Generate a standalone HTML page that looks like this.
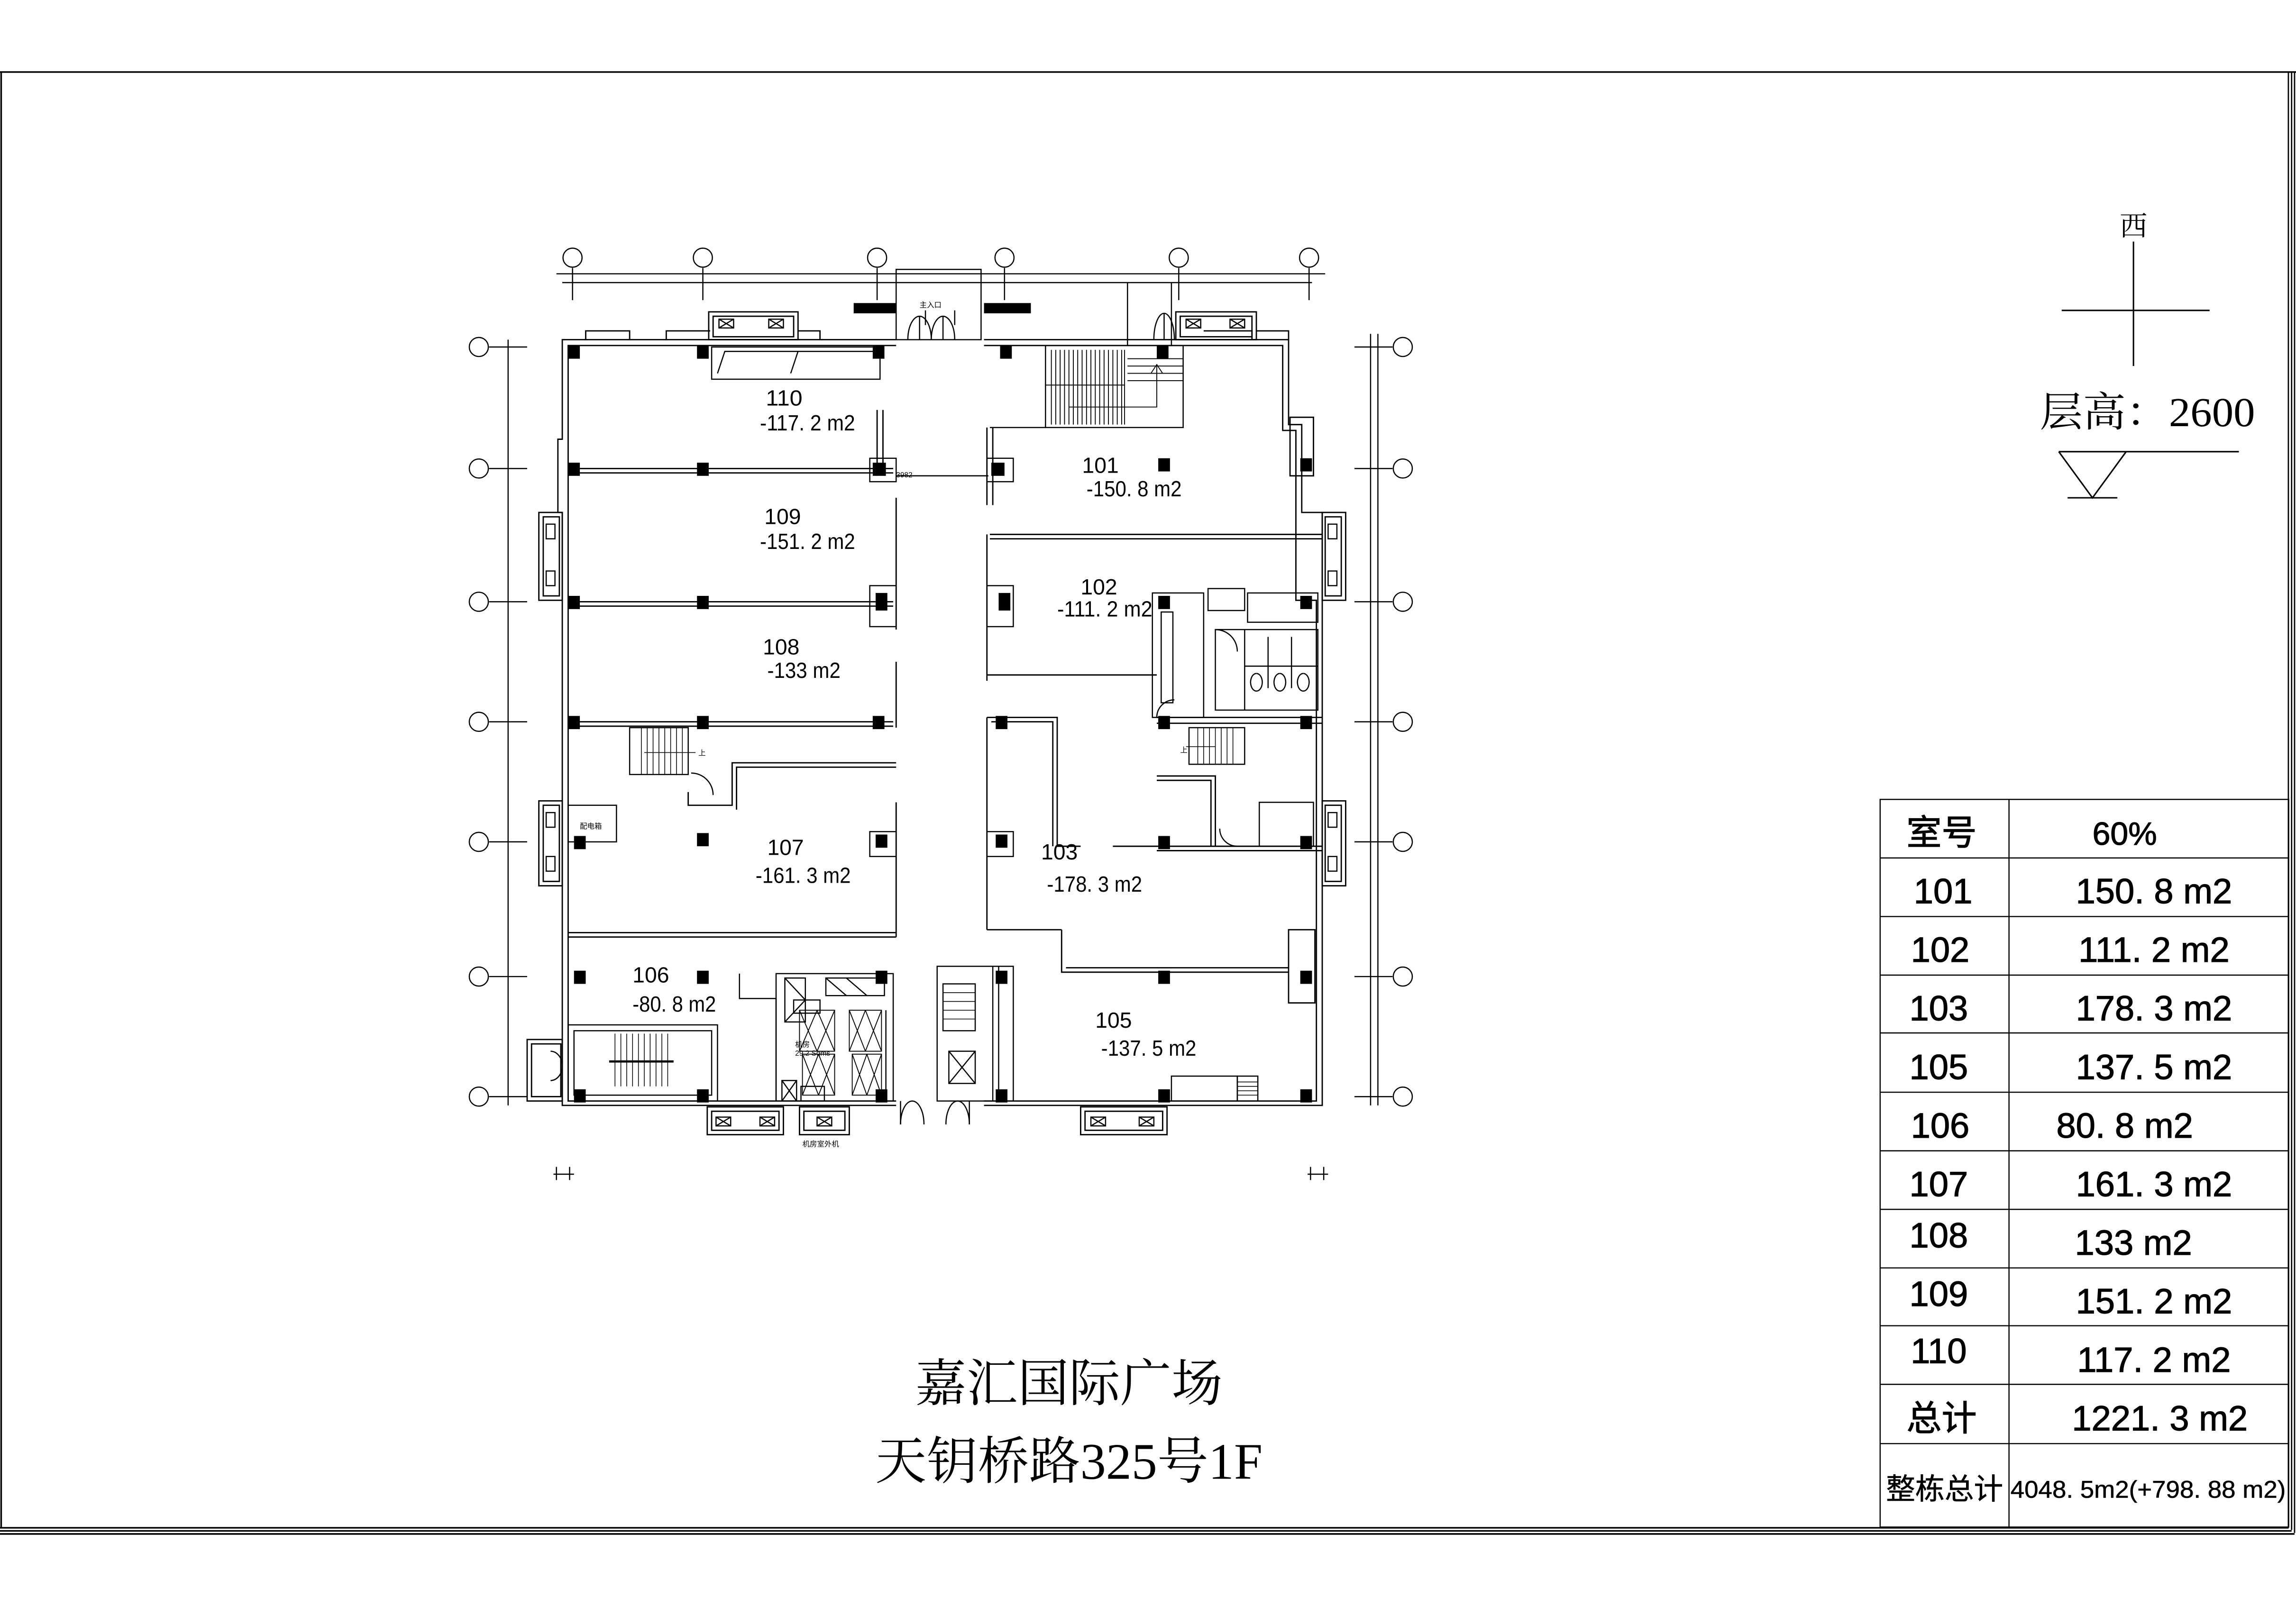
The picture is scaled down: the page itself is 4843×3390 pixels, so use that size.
<!DOCTYPE html>
<html><head><meta charset="utf-8"><style>
html,body{margin:0;padding:0;background:#fff;}
svg{display:block;}
.t{font-family:"Liberation Sans Narrow","Liberation Sans","Noto Sans CJK SC",sans-serif;}
.s{font-family:"Liberation Serif","Noto Serif CJK SC",serif;}
.k{font-family:"Liberation Sans","Noto Sans CJK SC",sans-serif;}
</style></head><body>
<svg width="4843" height="3390" viewBox="0 0 1568 1097.6" preserveAspectRatio="none" xmlns="http://www.w3.org/2000/svg">
<rect width="1568" height="1098" fill="#fff"/>
<g fill="none" stroke="#000">
<line x1="0" y1="49.2" x2="1568" y2="49.2" stroke-width="1.1"/>
<line x1="0.8" y1="49" x2="0.8" y2="1043" stroke-width="1.1"/>
<line x1="0" y1="1043.5" x2="1563" y2="1043.5" stroke-width="1.1"/>
<line x1="0" y1="1045.6" x2="1565" y2="1045.6" stroke-width="1.1"/>
<line x1="0" y1="1047.7" x2="1567" y2="1047.7" stroke-width="1.1"/>
<line x1="1562.8" y1="49" x2="1562.8" y2="1043" stroke-width="0.9"/>
<line x1="1565" y1="49" x2="1565" y2="1045" stroke-width="0.9"/>
<line x1="1567" y1="49" x2="1567" y2="1047" stroke-width="0.9"/>
<g stroke-width="0.8">
<rect x="1284" y="546" width="279" height="497"/>
<line x1="1372" y1="546" x2="1372" y2="1043"/>
<line x1="1284" y1="586" x2="1563" y2="586"/><line x1="1284" y1="626" x2="1563" y2="626"/>
<line x1="1284" y1="666" x2="1563" y2="666"/><line x1="1284" y1="705.5" x2="1563" y2="705.5"/>
<line x1="1284" y1="746" x2="1563" y2="746"/><line x1="1284" y1="786" x2="1563" y2="786"/>
<line x1="1284" y1="826" x2="1563" y2="826"/><line x1="1284" y1="866" x2="1563" y2="866"/>
<line x1="1284" y1="905.5" x2="1563" y2="905.5"/><line x1="1284" y1="945.5" x2="1563" y2="945.5"/>
<line x1="1284" y1="986" x2="1563" y2="986"/>
</g>
<g stroke-width="1">
<line x1="1457" y1="165" x2="1457" y2="250"/>
<line x1="1408" y1="212" x2="1509" y2="212"/>
<line x1="1406" y1="308.5" x2="1529" y2="308.5"/>
<polyline points="1406,308.5 1429,340 1452,308.5"/>
<line x1="1412" y1="340" x2="1446" y2="340"/>
</g>
</g>
<g fill="#000">
<text x="1457" y="161" class="s" font-size="19" text-anchor="middle">西</text>
<text x="1393" y="291" class="s" font-size="28" textLength="147" lengthAdjust="spacingAndGlyphs">层高：2600</text>
<text x="730" y="957" class="s" font-size="35" text-anchor="middle">嘉汇国际广场</text>
<text x="730" y="1010" class="s" font-size="35" text-anchor="middle">天钥桥路325号1F</text>
<g class="k" font-size="24" text-anchor="middle" stroke="#000" stroke-width="0.4">
<text x="1326" y="577">室号</text><text x="1451" y="577" font-size="22">60%</text>
<text x="1327" y="617">101</text><text x="1471" y="617">150. 8 m2</text>
<text x="1325" y="657">102</text><text x="1471" y="657">111. 2 m2</text>
<text x="1324" y="697">103</text><text x="1471" y="697">178. 3 m2</text>
<text x="1324" y="737">105</text><text x="1471" y="737">137. 5 m2</text>
<text x="1325" y="777">106</text><text x="1451" y="777">80. 8 m2</text>
<text x="1324" y="817">107</text><text x="1471" y="817">161. 3 m2</text>
<text x="1324" y="852">108</text><text x="1457" y="857">133 m2</text>
<text x="1324" y="892">109</text><text x="1471" y="897">151. 2 m2</text>
<text x="1324" y="931">110</text><text x="1471" y="937">117. 2 m2</text>
<text x="1326" y="977">总计</text><text x="1475" y="977">1221. 3 m2</text>
<text x="1328" y="1024" font-size="20" stroke-width="0.2">整栋总计</text>
<text x="1467" y="1023" font-size="16.5" stroke-width="0.2" textLength="188" lengthAdjust="spacingAndGlyphs">4048. 5m2(+798. 88 m2)</text>
</g>
</g>

<g fill="none" stroke="#000" stroke-width="0.8">
<g>
<circle cx="391" cy="176" r="6.5"/><circle cx="480" cy="176" r="6.5"/><circle cx="599" cy="176" r="6.5"/>
<circle cx="686" cy="176" r="6.5"/><circle cx="805" cy="176" r="6.5"/><circle cx="894" cy="176" r="6.5"/>
<line x1="380" y1="187" x2="905" y2="187"/><line x1="384" y1="193" x2="896" y2="193"/>
<line x1="391" y1="183" x2="391" y2="205"/><line x1="480" y1="183" x2="480" y2="205"/>
<line x1="599" y1="183" x2="599" y2="205"/><line x1="686" y1="183" x2="686" y2="205"/>
<line x1="805" y1="183" x2="805" y2="205"/><line x1="894" y1="183" x2="894" y2="205"/>
</g>
<g>
<circle cx="327" cy="237" r="6.5"/><circle cx="327" cy="320" r="6.5"/><circle cx="327" cy="411" r="6.5"/>
<circle cx="327" cy="493" r="6.5"/><circle cx="327" cy="575" r="6.5"/><circle cx="327" cy="667" r="6.5"/><circle cx="327" cy="749" r="6.5"/>
<circle cx="958" cy="237" r="6.5"/><circle cx="958" cy="320" r="6.5"/><circle cx="958" cy="411" r="6.5"/>
<circle cx="958" cy="493" r="6.5"/><circle cx="958" cy="575" r="6.5"/><circle cx="958" cy="667" r="6.5"/><circle cx="958" cy="749" r="6.5"/>
<line x1="347" y1="232" x2="347" y2="755"/><line x1="936" y1="228" x2="936" y2="755"/><line x1="941" y1="228" x2="941" y2="755"/>
<line x1="334" y1="237" x2="360" y2="237"/><line x1="334" y1="320" x2="360" y2="320"/><line x1="334" y1="411" x2="360" y2="411"/>
<line x1="334" y1="493" x2="360" y2="493"/><line x1="334" y1="575" x2="360" y2="575"/><line x1="334" y1="667" x2="360" y2="667"/><line x1="334" y1="749" x2="360" y2="749"/>
<line x1="925" y1="237" x2="951" y2="237"/><line x1="925" y1="320" x2="951" y2="320"/><line x1="925" y1="411" x2="951" y2="411"/>
<line x1="925" y1="493" x2="951" y2="493"/><line x1="925" y1="575" x2="951" y2="575"/><line x1="925" y1="667" x2="951" y2="667"/><line x1="925" y1="749" x2="951" y2="749"/>
</g>
<line x1="378" y1="802" x2="392" y2="802"/><line x1="380" y1="797" x2="380" y2="806"/><line x1="389" y1="797" x2="389" y2="806"/>
<line x1="893" y1="802" x2="907" y2="802"/><line x1="895" y1="797" x2="895" y2="806"/><line x1="904" y1="797" x2="904" y2="806"/>

<g stroke-width="0.9">
<polyline points="612,232 384,232 384,300 381,300 381,350 384,350 384,755 612,755"/>
<polyline points="612,236 388,236 388,300 388,752 612,752"/>
<polyline points="672,232 880,232 880,290 889,290 889,350 903,350 903,755 672,755"/>
<polyline points="672,236 876,236 876,294 885,294 885,410 899,410 899,752 672,752"/>
<polyline points="400,232 400,226 430,226 430,232"/><polyline points="455,232 455,226 485,226"/>
<polyline points="545,226 560,226 560,232"/><polyline points="822,226 855,226 855,232"/><polyline points="858,226 880,226 880,232"/>
<rect x="484" y="213" width="61" height="19"/><rect x="487" y="216" width="55" height="14"/>
<rect x="803" y="213" width="55" height="19"/><rect x="806" y="216" width="49" height="14"/>
<rect x="368" y="350" width="16" height="60"/><rect x="371" y="353" width="11" height="54"/>
<rect x="368" y="547" width="16" height="58"/><rect x="371" y="550" width="11" height="52"/>
<rect x="903" y="350" width="16" height="60"/><rect x="905" y="353" width="11" height="54"/>
<rect x="903" y="547" width="16" height="58"/><rect x="905" y="550" width="11" height="52"/>
<rect x="360" y="710" width="24" height="42"/><rect x="363" y="713" width="20" height="36"/>
<rect x="483" y="756" width="52" height="19"/><rect x="486" y="759" width="46" height="13"/>
<rect x="546" y="756" width="34" height="19"/><rect x="549" y="759" width="28" height="13"/>
<rect x="738" y="756" width="59" height="19"/><rect x="741" y="759" width="53" height="13"/>
<rect x="880" y="635" width="18" height="50"/>
<rect x="881" y="285" width="16" height="40"/>
</g>
<g stroke-width="0.8">
<rect x="491" y="218" width="10" height="6"/><path d="M491 218l10 6M501 218l-10 6"/>
<rect x="525" y="218" width="10" height="6"/><path d="M525 218l10 6M535 218l-10 6"/>
<rect x="810" y="218" width="10" height="6"/><path d="M810 218l10 6M820 218l-10 6"/>
<rect x="840" y="218" width="10" height="6"/><path d="M840 218l10 6M850 218l-10 6"/>
<rect x="373" y="358" width="6" height="10"/><rect x="373" y="390" width="6" height="10"/>
<rect x="373" y="555" width="6" height="10"/><rect x="373" y="585" width="6" height="10"/>
<rect x="907" y="358" width="6" height="10"/><rect x="907" y="390" width="6" height="10"/>
<rect x="907" y="555" width="6" height="10"/><rect x="907" y="585" width="6" height="10"/>
<rect x="489" y="763" width="10" height="6"/><path d="M489 763l10 6M499 763l-10 6"/>
<rect x="519" y="763" width="10" height="6"/><path d="M519 763l10 6M529 763l-10 6"/>
<rect x="558" y="763" width="10" height="6"/><path d="M558 763l10 6M568 763l-10 6"/>
<rect x="745" y="763" width="10" height="6"/><path d="M745 763l10 6M755 763l-10 6"/>
<rect x="778" y="763" width="10" height="6"/><path d="M778 763l10 6M788 763l-10 6"/>
</g>
<rect x="612" y="184" width="58" height="48"/>
<path d="M620 232a8 16 0 0 1 8-16v16M628 216a8 16 0 0 1 8 16M636 232a8 16 0 0 1 8-16v16M644 216a8 16 0 0 1 8 16"/>
<line x1="632" y1="212" x2="632" y2="222"/><line x1="652" y1="212" x2="652" y2="222"/>
<path d="M788 232a7 18 0 0 1 7-18v18M795 214a7 18 0 0 1 7 18"/>
<line x1="770" y1="193" x2="770" y2="236"/><line x1="800" y1="193" x2="800" y2="236"/>
<path d="M615 768a8 16 0 0 1 8-16M623 752a8 16 0 0 1 8 16M646 768a8 16 0 0 1 8-16M654 752a8 16 0 0 1 8 16"/>
<line x1="615" y1="752" x2="615" y2="768"/><line x1="662" y1="752" x2="662" y2="768"/>
<rect x="486" y="237" width="115" height="22"/>
<path d="M490 255l5-15h50M540 255l5-15h55"/>
<rect x="714" y="236" width="94" height="56"/>
<g stroke-width="0.6">
<line x1="718" y1="239" x2="718" y2="290"/><line x1="721" y1="239" x2="721" y2="290"/><line x1="724" y1="239" x2="724" y2="290"/>
<line x1="727" y1="239" x2="727" y2="290"/><line x1="730" y1="239" x2="730" y2="290"/><line x1="733" y1="239" x2="733" y2="290"/>
<line x1="736" y1="239" x2="736" y2="290"/><line x1="739" y1="239" x2="739" y2="290"/><line x1="742" y1="239" x2="742" y2="290"/>
<line x1="745" y1="239" x2="745" y2="290"/><line x1="748" y1="239" x2="748" y2="290"/><line x1="751" y1="239" x2="751" y2="290"/>
<line x1="754" y1="239" x2="754" y2="290"/><line x1="757" y1="239" x2="757" y2="290"/><line x1="760" y1="239" x2="760" y2="290"/>
<line x1="763" y1="239" x2="763" y2="290"/><line x1="766" y1="239" x2="766" y2="290"/>
<line x1="714" y1="263" x2="768" y2="263"/><line x1="768" y1="239" x2="768" y2="290"/>
<line x1="770" y1="245" x2="808" y2="245"/><line x1="770" y1="250" x2="808" y2="250"/><line x1="770" y1="255" x2="808" y2="255"/><line x1="770" y1="260" x2="808" y2="260"/>
<polyline points="730,278 790,278 790,250"/><path d="M786 255l4-6 4 6"/>
</g>
<line x1="676" y1="292" x2="714" y2="292"/>
<g stroke-width="0.9">
<line x1="388" y1="320" x2="610" y2="320"/><line x1="388" y1="323" x2="610" y2="323"/>
<line x1="388" y1="411" x2="610" y2="411"/><line x1="388" y1="414" x2="610" y2="414"/>
<line x1="388" y1="493" x2="610" y2="493"/><line x1="388" y1="496" x2="610" y2="496"/>
<polyline points="612,521 500,521 500,550 470,550 470,541"/><polyline points="612,524 503,524 503,553"/>
<line x1="388" y1="637" x2="612" y2="637"/><line x1="388" y1="640" x2="612" y2="640"/>
<line x1="612" y1="340" x2="612" y2="430"/><line x1="612" y1="548" x2="612" y2="640"/>
<line x1="612" y1="452" x2="612" y2="497"/>
<line x1="599" y1="280" x2="599" y2="325"/><line x1="603" y1="280" x2="603" y2="320"/>
<polyline points="674,292 674,345"/><polyline points="678,292 678,345"/>
<line x1="674" y1="365" x2="674" y2="465"/><line x1="676" y1="365" x2="903" y2="365"/><line x1="676" y1="368" x2="903" y2="368"/>
<line x1="674" y1="461" x2="790" y2="461"/>
<polyline points="674,490 674,635"/><polyline points="674,490 722,490 722,578 738,578"/><polyline points="677,493 719,493 719,578"/>
<line x1="674" y1="635" x2="725" y2="635"/><polyline points="725,635 725,664 880,664"/><line x1="728" y1="661" x2="880" y2="661"/>
<polyline points="790,530 830,530 830,578"/><polyline points="790,533 827,533 827,578"/>
<line x1="760" y1="578" x2="903" y2="578"/><line x1="790" y1="581" x2="903" y2="581"/>
<line x1="790" y1="490" x2="903" y2="490"/><line x1="790" y1="494" x2="903" y2="494"/>
</g>
<rect x="787" y="405" width="35" height="85"/><rect x="793" y="418" width="8" height="62"/>
<rect x="825" y="402" width="25" height="15"/><rect x="852" y="405" width="48" height="20"/>
<rect x="830" y="430" width="70" height="55"/>
<line x1="850" y1="430" x2="850" y2="485"/><line x1="866" y1="435" x2="866" y2="470"/><line x1="882" y1="435" x2="882" y2="470"/>
<line x1="850" y1="455" x2="900" y2="455"/>
<path d="M858 460a4 6 0 1 0 0.1 0M874 460a4 6 0 1 0 0.1 0M890 460a4 6 0 1 0 0.1 0"/>
<path d="M830 430a15 15 0 0 1 15 15M790 490a12 12 0 0 1 12-12"/>
<rect x="430" y="497" width="40" height="32"/>
<g stroke-width="0.5"><line x1="438" y1="497" x2="438" y2="529"/><line x1="442" y1="497" x2="442" y2="529"/><line x1="446" y1="497" x2="446" y2="529"/><line x1="450" y1="497" x2="450" y2="529"/><line x1="454" y1="497" x2="454" y2="529"/><line x1="458" y1="497" x2="458" y2="529"/><line x1="462" y1="497" x2="462" y2="529"/><line x1="466" y1="497" x2="466" y2="529"/><line x1="440" y1="514" x2="475" y2="514"/></g>
<path d="M472 528a15 15 0 0 1 15 15"/>
<rect x="812" y="497" width="38" height="25"/>
<g stroke-width="0.5"><line x1="818" y1="497" x2="818" y2="522"/><line x1="822" y1="497" x2="822" y2="522"/><line x1="826" y1="497" x2="826" y2="522"/><line x1="830" y1="497" x2="830" y2="522"/><line x1="834" y1="497" x2="834" y2="522"/><line x1="838" y1="497" x2="838" y2="522"/><line x1="842" y1="497" x2="842" y2="522"/><line x1="810" y1="510" x2="830" y2="510"/></g>
<rect x="860" y="548" width="37" height="30"/><path d="M845 578a12 12 0 0 1-12-12"/>
<rect x="388" y="550" width="33" height="25"/>
<rect x="388" y="700" width="102" height="52"/><rect x="392" y="704" width="94" height="44"/>
<g stroke-width="0.5"><line x1="420" y1="706" x2="420" y2="742"/><line x1="424" y1="706" x2="424" y2="742"/><line x1="428" y1="706" x2="428" y2="742"/><line x1="432" y1="706" x2="432" y2="742"/><line x1="436" y1="706" x2="436" y2="742"/><line x1="440" y1="706" x2="440" y2="742"/><line x1="444" y1="706" x2="444" y2="742"/><line x1="448" y1="706" x2="448" y2="742"/><line x1="452" y1="706" x2="452" y2="742"/><line x1="456" y1="706" x2="456" y2="742"/></g>
<line x1="416" y1="725" x2="460" y2="725" stroke-width="1.5"/>
<path d="M384 728a8 10 0 0 1 -8 10M384 728a8 10 0 0 0 -8 -10"/>
<polyline points="505,665 505,682 530,682 530,752"/>
<rect x="530" y="665" width="80" height="87"/>
<rect x="536" y="668" width="14" height="30"/><path d="M536 668l14 15M536 698l14-15"/>
<rect x="564" y="668" width="40" height="12"/><path d="M564 668l14 12M578 668l14 12"/>
<rect x="542" y="683" width="18" height="9"/>
<g stroke-width="0.6">
<rect x="546" y="690" width="24" height="28"/><path d="M546 690l12 28M558 690l-12 28M558 690l12 28M570 690l-12 28"/>
<rect x="580" y="690" width="22" height="28"/><path d="M580 690l11 28M591 690l-11 28M591 690l11 28M602 690l-11 28"/>
<rect x="548" y="720" width="22" height="28"/><path d="M548 720l11 28M559 720l-11 28M559 720l11 28M570 720l-11 28"/>
<rect x="582" y="720" width="20" height="28"/><path d="M582 720l10 28M592 720l-10 28M592 720l10 28M602 720l-10 28"/>
</g>
<rect x="534" y="738" width="10" height="14"/><path d="M534 738l10 14M544 738l-10 14"/>
<rect x="547" y="742" width="16" height="10"/>
<line x1="605" y1="690" x2="605" y2="752"/>
<rect x="640" y="660" width="52" height="92"/>
<rect x="644" y="672" width="22" height="32"/>
<g stroke-width="0.5"><line x1="644" y1="678" x2="666" y2="678"/><line x1="644" y1="684" x2="666" y2="684"/><line x1="644" y1="690" x2="666" y2="690"/><line x1="644" y1="696" x2="666" y2="696"/></g>
<rect x="648" y="718" width="18" height="22"/><path d="M648 718l18 22M666 718l-18 22"/>
<line x1="678" y1="660" x2="678" y2="752"/><line x1="682" y1="660" x2="682" y2="752"/>
<rect x="800" y="735" width="45" height="17"/><rect x="845" y="735" width="14" height="17"/>
<g stroke-width="0.5"><line x1="845" y1="739" x2="859" y2="739"/><line x1="845" y1="742" x2="859" y2="742"/><line x1="845" y1="745" x2="859" y2="745"/><line x1="845" y1="748" x2="859" y2="748"/></g>
<rect x="594" y="400" width="18" height="28"/><rect x="674" y="400" width="18" height="28"/>
<rect x="594" y="313" width="18" height="16"/><rect x="674" y="313" width="18" height="16"/>
<rect x="594" y="568" width="18" height="17"/><rect x="674" y="568" width="18" height="17"/>
<line x1="612" y1="325" x2="675" y2="325"/>
</g>

<g fill="#000">
<rect x="388" y="236" width="8" height="9"/><rect x="476" y="236" width="8" height="9"/><rect x="596" y="236" width="8" height="9"/>
<rect x="683" y="236" width="8" height="9"/><rect x="790" y="236" width="8" height="9"/>
<rect x="388" y="316" width="8" height="9"/><rect x="476" y="316" width="8" height="9"/><rect x="596" y="316" width="9" height="9"/><rect x="677" y="316" width="9" height="9"/>
<rect x="791" y="313" width="8" height="9"/><rect x="888" y="313" width="8" height="9"/>
<rect x="388" y="407" width="8" height="9"/><rect x="476" y="407" width="8" height="9"/><rect x="598" y="405" width="8" height="12"/><rect x="682" y="405" width="8" height="12"/>
<rect x="791" y="407" width="8" height="9"/><rect x="888" y="407" width="8" height="9"/>
<rect x="388" y="489" width="8" height="9"/><rect x="476" y="489" width="8" height="9"/><rect x="596" y="489" width="8" height="9"/>
<rect x="680" y="489" width="8" height="9"/><rect x="791" y="489" width="8" height="9"/><rect x="888" y="489" width="8" height="9"/>
<rect x="392" y="571" width="8" height="9"/><rect x="476" y="569" width="8" height="9"/><rect x="598" y="570" width="8" height="9"/><rect x="680" y="570" width="8" height="9"/>
<rect x="791" y="571" width="8" height="9"/><rect x="888" y="571" width="8" height="9"/>
<rect x="392" y="663" width="8" height="9"/><rect x="476" y="663" width="8" height="9"/><rect x="598" y="663" width="8" height="9"/><rect x="680" y="663" width="8" height="9"/>
<rect x="791" y="663" width="8" height="9"/><rect x="888" y="663" width="8" height="9"/>
<rect x="392" y="744" width="8" height="9"/><rect x="476" y="744" width="8" height="9"/><rect x="598" y="744" width="8" height="9"/><rect x="680" y="744" width="8" height="9"/>
<rect x="791" y="744" width="8" height="9"/><rect x="888" y="744" width="8" height="9"/>
<rect x="583" y="207" width="29" height="7"/><rect x="672" y="207" width="32" height="7"/>
</g>

<g fill="#000" class="t" font-size="15">
<text x="523" y="277" textLength="25" lengthAdjust="spacingAndGlyphs">110</text><text x="519" y="294" textLength="65" lengthAdjust="spacingAndGlyphs">-117. 2 m2</text>
<text x="739" y="323" textLength="25" lengthAdjust="spacingAndGlyphs">101</text><text x="742" y="339" textLength="65" lengthAdjust="spacingAndGlyphs">-150. 8 m2</text>
<text x="522" y="358" textLength="25" lengthAdjust="spacingAndGlyphs">109</text><text x="519" y="375" textLength="65" lengthAdjust="spacingAndGlyphs">-151. 2 m2</text>
<text x="738" y="406" textLength="25" lengthAdjust="spacingAndGlyphs">102</text><text x="722" y="421" textLength="65" lengthAdjust="spacingAndGlyphs">-111. 2 m2</text>
<text x="521" y="447" textLength="25" lengthAdjust="spacingAndGlyphs">108</text><text x="524" y="463" textLength="50" lengthAdjust="spacingAndGlyphs">-133 m2</text>
<text x="524" y="584" textLength="25" lengthAdjust="spacingAndGlyphs">107</text><text x="516" y="603" textLength="65" lengthAdjust="spacingAndGlyphs">-161. 3 m2</text>
<text x="711" y="587" textLength="25" lengthAdjust="spacingAndGlyphs">103</text><text x="715" y="609" textLength="65" lengthAdjust="spacingAndGlyphs">-178. 3 m2</text>
<text x="432" y="671" textLength="25" lengthAdjust="spacingAndGlyphs">106</text><text x="432" y="691" textLength="57" lengthAdjust="spacingAndGlyphs">-80. 8 m2</text>
<text x="748" y="702" textLength="25" lengthAdjust="spacingAndGlyphs">105</text><text x="752" y="721" textLength="65" lengthAdjust="spacingAndGlyphs">-137. 5 m2</text>
</g>
<g fill="#000" class="t" font-size="5">
<text x="628" y="210">主入口</text><text x="612" y="326">3982</text><text x="396" y="566">配电箱</text>
<text x="477" y="516">上</text><text x="806" y="514">上</text><text x="548" y="783">机房室外机</text>
<text x="543" y="715">机房</text><text x="543" y="721">29.2 Sqms</text>
</g>
</svg>
</body></html>
